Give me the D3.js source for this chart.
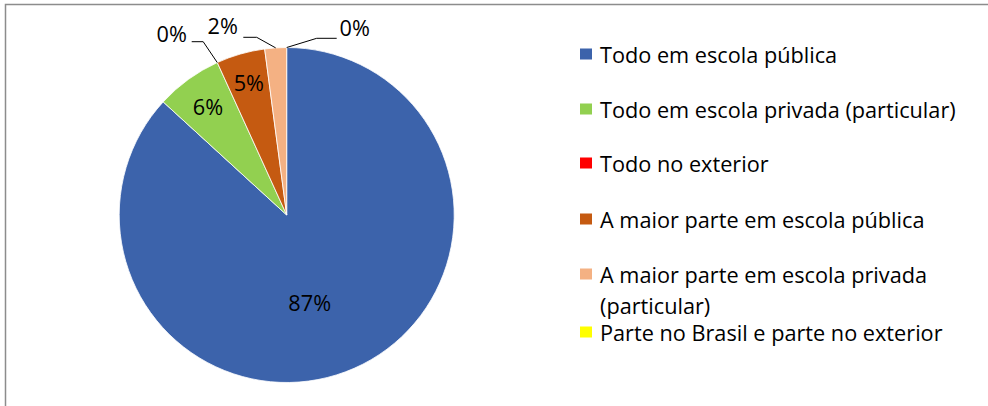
<!DOCTYPE html>
<html><head><meta charset="utf-8">
<script src="https://cdn.jsdelivr.net/npm/d3@7"></script>
<style>body{margin:0;background:#fff}svg{display:block}text{font-family:"Open Sans",sans-serif;fill:#000}</style>
</head><body>
<script>
const categories = ["Todo em escola pública","Todo em escola privada (particular)","Todo no exterior","A maior parte em escola pública","A maior parte em escola privada (particular)","Parte no Brasil e parte no exterior"];
const values = [86.8, 6.4, 0, 4.7, 2.1, 0];
const colors = ["#3c63ab","#92d050","#ff0000","#c55a11","#f4b183","#ffff00"];

const W=988,H=406, cx=286.7, cy=215, R=167.5;
const svg=d3.select("body").append("svg").attr("width",W).attr("height",H);
svg.append("path").attr("d",`M5.5,${H} V4.5 H${W}`).attr("fill","none").attr("stroke","#8c8c8c").attr("stroke-width",1.5);

// measure font size so the widest legend line spans ~356px
const probe=svg.append("text").style("font-size","20px").text("Todo em escola privada (particular)");
const fs=20*356/probe.node().getComputedTextLength();
probe.remove();

const pie=d3.pie().sort(null).value(d=>d).startAngle(0).endAngle(2*Math.PI);
const arcs=pie(values);
const arc=d3.arc().innerRadius(0).outerRadius(R);
const g=svg.append("g").attr("transform",`translate(${cx},${cy})`);
g.selectAll("path.s").data(arcs).enter().append("path").attr("class","s")
 .attr("d",arc).attr("fill",(d,i)=>colors[i]).attr("stroke","#fff").attr("stroke-width",(d)=>d.value>0?0.8:0);

const fmt=v=>Math.round(v)+"%";
const labelLayout=[
 {type:"in", dx:23, dy:87},
 {type:"in", r:0.8},
 {type:"out", tx:-115, ty:-182, elbow:[-83.5,-173.3], anchor:[-95,-173.3]},
 {type:"in", r:0.82},
 {type:"out", tx:-64, ty:-190, elbow:[-30,-177.7], anchor:[-43.4,-177.7]},
 {type:"out", tx:68, ty:-188, elbow:[30,-176.7], anchor:[50,-176.7]}
];
arcs.forEach((d,i)=>{
  const L=labelLayout[i];
  const mid=(d.startAngle+d.endAngle)/2;
  let x,y;
  if(L.type==="in"){
    if(L.r!==undefined){x=Math.sin(mid)*R*L.r; y=-Math.cos(mid)*R*L.r;}
    else {x=L.dx;y=L.dy;}
  } else {
    const px=Math.sin(mid)*R, py=-Math.cos(mid)*R;
    g.append("polyline").attr("points",[[px,py],L.elbow,L.anchor].map(p=>p.join(",")).join(" "))
     .attr("fill","none").attr("stroke","#000").attr("stroke-width",1);
    x=L.tx;y=L.ty;
  }
  g.append("text").attr("x",x).attr("y",y).attr("text-anchor","middle").attr("dominant-baseline","central")
   .style("font-size",fs+"px").text(fmt(d.value));
});

const legendRows=[[54],[109],[163],[219],[274,305],[332]];
const lg=svg.append("g");
categories.forEach((c,i)=>{
  const ys=legendRows[i];
  lg.append("rect").attr("x",580).attr("y",ys[0]-5.5).attr("width",12).attr("height",11).attr("fill",colors[i]);
  const lines = i===4 ? ["A maior parte em escola privada","(particular)"] : [c];
  lines.forEach((t,j)=>{
    lg.append("text").attr("x",600).attr("y",ys[j]).attr("dominant-baseline","central").style("font-size",fs+"px").text(t);
  });
});
</script>
</body></html>
